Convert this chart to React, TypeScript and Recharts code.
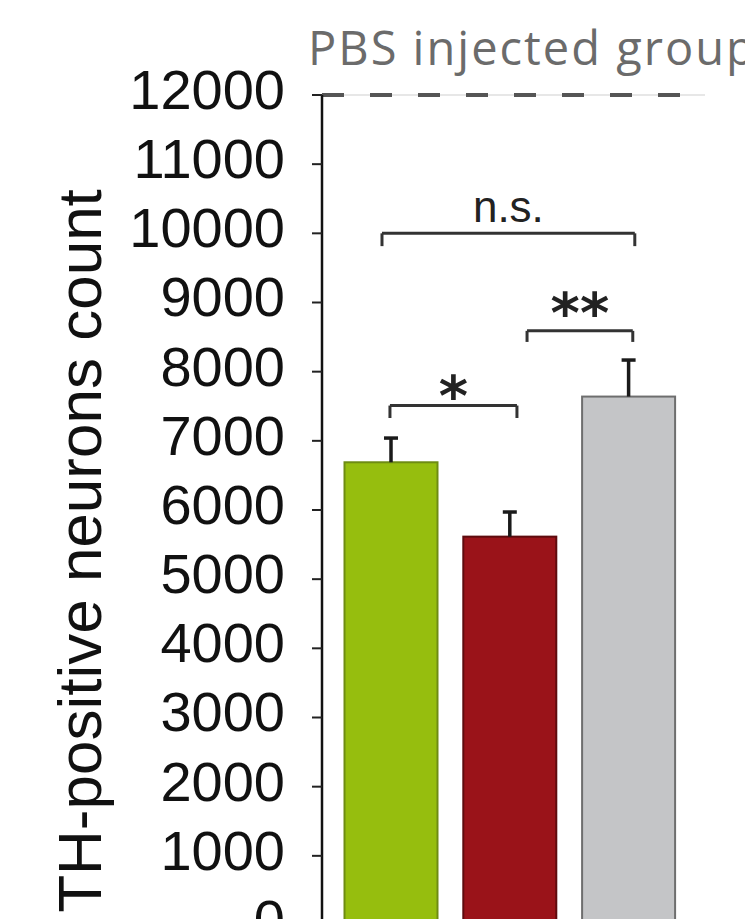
import React from 'react';
import { BarChart, Bar, XAxis, YAxis, Cell, ReferenceLine, Label } from 'recharts';

const groups = ['Group 1', 'Group 2', 'Group 3'];
const means = [6690, 5615, 7640];
const sems = [350, 356, 528];
const fills = ['#96BE0E', '#9A1319', '#C4C5C7'];
const strokes = ['#6E8C12', '#5E0B0E', '#6E6E6E'];
const yTicks = [0, 1000, 2000, 3000, 4000, 5000, 6000, 7000, 8000, 9000, 10000, 11000, 12000];
const pbsLevel = 12000;
const pbsLabel = 'PBS injected group';
const yLabel = 'TH-positive neurons count';

const bracketFrom = [-0.075, 1.146, -0.008];
const bracketTo = [2.053, 2.036, 1.061];
const bracketY = [10000, 8590, 7510];
const bracketDrop = [185, 160, 180];
const bracketText = ['n.s.', '**', '*'];

const data = groups.map((g, i) => ({ x: i, name: g, mean: means[i], sem: sems[i] }));

const FONT = '"Liberation Sans", Arial, sans-serif';

const BarWithError = (props: any) => {
  const { x, y, width, height, fill, stroke, payload } = props;
  const k = payload.mean ? height / payload.mean : 0;
  const top = y - payload.sem * k;
  const cx = x + width / 2;
  return (
    <g>
      <rect x={x} y={y} width={width} height={height} fill={fill} stroke={stroke} strokeWidth={2} />
      <line x1={cx} y1={y} x2={cx} y2={top} stroke="#1a1a1a" strokeWidth={3.5} />
      <line x1={cx - 7} y1={top} x2={cx + 7} y2={top} stroke="#1a1a1a" strokeWidth={3.5} />
    </g>
  );
};

const bracketLabel = (i: number) => (props: any) => {
  const vb = props.viewBox || { x: 0, y: 0, width: 0 };
  const cx = vb.x + vb.width / 2;
  if (i === 0) {
    return (
      <text x={cx} y={vb.y - 11} textAnchor="middle" fontSize={44} fontFamily={FONT} fill="#222">
        {bracketText[i]}
      </text>
    );
  }
  return (
    <text
      x={cx}
      y={vb.y + (i === 1 ? 1 : 9)}
      textAnchor="middle"
      fontSize={56}
      fontWeight="bold"
      fontFamily='"DejaVu Sans", sans-serif'
      fill="#222"
    >
      {bracketText[i]}
    </text>
  );
};

export default function App() {
  return (
    <div style={{ position: 'fixed', top: 0, left: 0, width: 745, height: 919, overflow: 'hidden', background: '#fff' }}>
      <BarChart width={745} height={960} data={data} margin={{ top: 95, right: 40, bottom: 35, left: 0 }}>
        <XAxis type="number" dataKey="x" domain={[-0.58, 2.644]} hide />
        <YAxis
          type="number"
          domain={[0, 12000]}
          ticks={yTicks}
          interval={0}
          width={322}
          axisLine={{ stroke: '#111', strokeWidth: 2.5 }}
          tickLine={{ stroke: '#222', strokeWidth: 2 }}
          tickSize={10}
          tickMargin={27}
          tick={{ fontSize: 56, fill: '#111', fontFamily: FONT, dy: -6 }}
        >
          <Label
            content={(props: any) => {
              const vb = props.viewBox || { x: 0, y: 95, width: 322, height: 830 };
              const cx = vb.x + 101;
              const cy = vb.y + vb.height / 2 + 41;
              return (
                <text
                  x={cx}
                  y={cy}
                  transform={`rotate(-90, ${cx}, ${cy})`}
                  textAnchor="middle"
                  fontSize={62}
                  fontFamily={FONT}
                  fill="#111"
                >
                  {yLabel}
                </text>
              );
            }}
          />
        </YAxis>
        <ReferenceLine y={pbsLevel} stroke="#cfcfcf" strokeWidth={1} />
        <ReferenceLine
          y={pbsLevel}
          stroke="#555"
          strokeWidth={4}
          strokeDasharray="22 26"
          label={(props: any) => {
            const vb = props.viewBox || { x: 322, y: 95 };
            return (
              <text
                x={vb.x - 14}
                y={vb.y - 30}
                fontSize={47}
                letterSpacing={2}
                fontFamily='"Open Sans", sans-serif'
                fill="#6b6b6b"
              >
                {pbsLabel}
              </text>
            );
          }}
        />
        <Bar dataKey="mean" barSize={93} isAnimationActive={false} shape={BarWithError}>
          {data.map((d, i) => (
            <Cell key={d.name} fill={fills[i]} stroke={strokes[i]} />
          ))}
        </Bar>
        {bracketText.map((t, i) => (
          <ReferenceLine
            key={'h' + i}
            segment={[{ x: bracketFrom[i], y: bracketY[i] }, { x: bracketTo[i], y: bracketY[i] }]}
            stroke="#333"
            strokeWidth={3}
            label={bracketLabel(i)}
          />
        ))}
        {bracketText.map((t, i) => (
          <ReferenceLine
            key={'l' + i}
            segment={[{ x: bracketFrom[i], y: bracketY[i] }, { x: bracketFrom[i], y: bracketY[i] - bracketDrop[i] }]}
            stroke="#333"
            strokeWidth={3}
          />
        ))}
        {bracketText.map((t, i) => (
          <ReferenceLine
            key={'r' + i}
            segment={[{ x: bracketTo[i], y: bracketY[i] }, { x: bracketTo[i], y: bracketY[i] - bracketDrop[i] }]}
            stroke="#333"
            strokeWidth={3}
          />
        ))}
      </BarChart>
    </div>
  );
}
